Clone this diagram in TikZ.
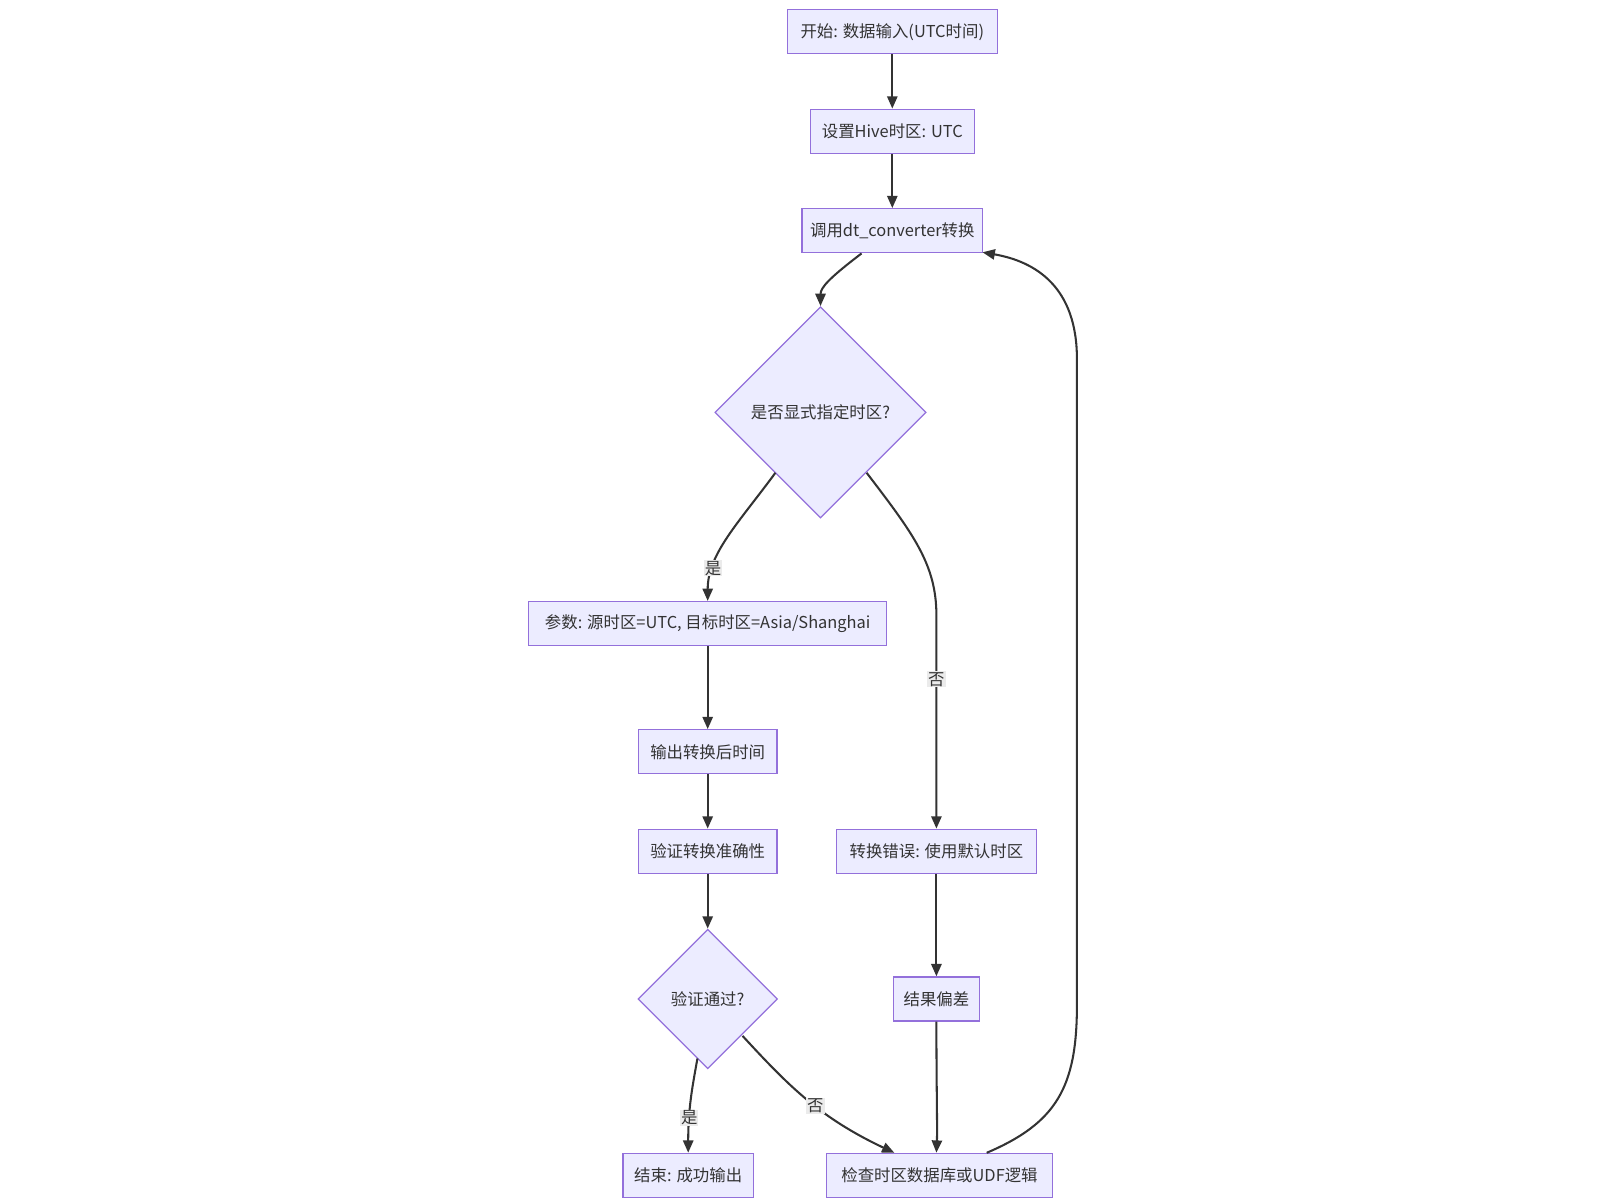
\documentclass[tikz,border=0pt]{standalone}
\usepackage{fontspec}
\setmainfont{Noto Sans CJK SC}
\usetikzlibrary{shapes.geometric,arrows.meta}
\definecolor{nfill}{HTML}{ECECFF}
\definecolor{nstroke}{HTML}{9370DB}
\definecolor{ink}{HTML}{333333}
\begin{document}
\begin{tikzpicture}[x=0.5pt,y=-0.5pt,
 box/.style={draw=nstroke,fill=nfill,line width=0.6pt,text=ink,font=\fontsize{8}{10}\selectfont,minimum height=21.5pt,inner sep=0pt},
 dia/.style={diamond,draw=nstroke,fill=nfill,line width=0.6pt,text=ink,font=\fontsize{8}{10}\selectfont,inner sep=0pt,aspect=1},
 arr/.style={draw=ink,line width=1pt,-{Triangle[length=6pt,width=5pt]}},
 lab/.style={fill=black!8,text=ink,font=\fontsize{8}{10}\selectfont,inner sep=0.5pt}]
\useasboundingbox (0,0) rectangle (1560,1170);
\node[box,minimum width=102.5pt] (start) at (870,31) {开始: 数据输入(UTC时间)};
\node[box,minimum width=80pt] (hive) at (870,128) {设置Hive时区: UTC};
\node[box,minimum width=88pt] (call) at (870,225) {调用dt\_converter转换};
\node[dia,minimum width=103pt,minimum height=103pt] (d1) at (800,402) {是否显式指定时区?};
\node[box,minimum width=174.5pt] (param) at (690,608) {参数: 源时区=UTC, 目标时区=Asia/Shanghai};
\node[box,minimum width=67.5pt] (out) at (690,733) {输出转换后时间};
\node[box,minimum width=67.5pt] (ver) at (690,830) {验证转换准确性};
\node[dia,minimum width=68pt,minimum height=68pt] (d2) at (690,974) {验证通过?};
\node[box,minimum width=63.5pt] (end) at (671,1146) {结束: 成功输出};
\node[box,minimum width=110.5pt] (chk) at (916,1146) {检查时区数据库或UDF逻辑};
\node[box,minimum width=97.5pt] (err) at (913,830) {转换错误: 使用默认时区};
\node[box,minimum width=42pt] (bias) at (913,974) {结果偏差};
\draw[arr] (start) -- (hive);
\draw[arr] (hive) -- (call);
\draw[arr] (call.south)+(-30,0) .. controls (810,270) and (800,280) .. (d1.north);
\draw[arr] (756,461) .. controls (720,510) and (690,540) .. node[lab,pos=0.75]{是} (param.north);
\draw[arr] (845,461) .. controls (890,520) and (913,550) .. (913,600) -- node[lab,pos=0.3]{否} (err.north);
\draw[arr] (param) -- (out);
\draw[arr] (out) -- (ver);
\draw[arr] (ver) -- (d2);
\draw[arr] (680,1032) .. controls (675,1060) and (671,1080) .. node[lab,pos=0.7]{是} (end.north);
\draw[arr] (724,1010) .. controls (770,1060) and (800,1090) .. node[lab,pos=0.55]{否} (872,1124);
\draw[arr] (err) -- (bias);
\draw[arr] (bias.south) .. controls (913,1060) and (914,1100) .. (chk.north -| bias.south);
\draw[arr] (962,1124) .. controls (1030,1095) and (1050,1060) .. (1050,980) -- (1050,350) .. controls (1050,280) and (1010,255) .. (958,246);
\end{tikzpicture}
\end{document}
